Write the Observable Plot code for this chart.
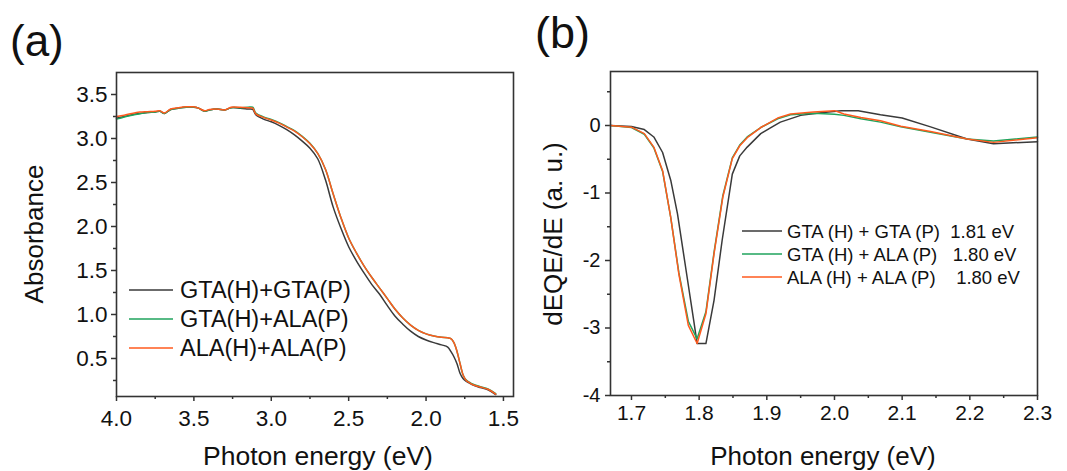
<!DOCTYPE html>
<html>
<head>
<meta charset="utf-8">
<script src="https://cdn.jsdelivr.net/npm/d3@7"></script>
<script src="https://cdn.jsdelivr.net/npm/@observablehq/plot@0.6"></script>
<style>
  html, body { margin: 0; padding: 0; background: #fff; }
  #wrap { position: relative; width: 1067px; height: 471px; overflow: hidden; background: #fff; }
  #wrap svg { position: absolute; top: 0; }
  text { white-space: pre; }
</style>
</head>
<body>
<div id="wrap"></div>
<script>
// ---------- Panel (a): absorbance ----------
const seriesNamesA = ["GTA(H)+GTA(P)", "GTA(H)+ALA(P)", "ALA(H)+ALA(P)"];
const energyA = [4.00,3.95,3.90,3.85,3.80,3.75,3.72,3.69,3.65,3.60,3.55,3.50,3.47,3.43,3.40,3.35,3.30,3.26,3.20,3.15,3.12,3.10,3.05,3.00,2.95,2.90,2.85,2.80,2.75,2.70,2.65,2.60,2.55,2.50,2.45,2.40,2.35,2.30,2.25,2.20,2.15,2.10,2.05,2.00,1.95,1.90,1.86,1.84,1.82,1.80,1.78,1.76,1.74,1.72,1.70,1.65,1.60,1.55];
const absGG = [3.23,3.25,3.27,3.285,3.295,3.30,3.31,3.285,3.33,3.345,3.355,3.355,3.345,3.31,3.325,3.335,3.325,3.35,3.345,3.335,3.33,3.27,3.22,3.19,3.15,3.10,3.04,2.97,2.89,2.77,2.53,2.22,1.98,1.77,1.61,1.47,1.34,1.23,1.10,0.98,0.89,0.81,0.75,0.71,0.68,0.655,0.63,0.58,0.52,0.44,0.33,0.27,0.24,0.22,0.20,0.17,0.145,0.09];
const absGA = [3.22,3.245,3.265,3.28,3.295,3.30,3.31,3.285,3.33,3.345,3.355,3.355,3.345,3.31,3.325,3.335,3.325,3.35,3.35,3.355,3.355,3.29,3.245,3.215,3.18,3.135,3.09,3.025,2.945,2.83,2.65,2.37,2.10,1.87,1.70,1.55,1.42,1.30,1.18,1.06,0.96,0.88,0.82,0.78,0.755,0.74,0.735,0.725,0.68,0.58,0.44,0.31,0.255,0.23,0.21,0.18,0.155,0.10];
const absAA = [3.25,3.265,3.285,3.30,3.305,3.31,3.315,3.29,3.335,3.35,3.36,3.36,3.345,3.315,3.33,3.335,3.325,3.355,3.355,3.35,3.345,3.28,3.24,3.21,3.175,3.13,3.085,3.02,2.94,2.83,2.65,2.37,2.10,1.87,1.70,1.55,1.42,1.30,1.18,1.06,0.96,0.88,0.82,0.78,0.755,0.74,0.735,0.725,0.68,0.58,0.44,0.31,0.25,0.225,0.205,0.175,0.15,0.095];
const xMajorA = [4.0,3.5,3.0,2.5,2.0,1.5];
const xMinorA = [3.75,3.25,2.75,2.25,1.75];
const yMajorA = [0.5,1.0,1.5,2.0,2.5,3.0,3.5];
const yMinorA = [0.25,0.75,1.25,1.75,2.25,2.75,3.25];

// ---------- Panel (b): dEQE/dE ----------
const seriesNamesB = ["GTA (H) + GTA (P)  1.81 eV", "GTA (H) + ALA (P)   1.80 eV", "ALA (H) + ALA (P)    1.80 eV"];
const energyB_GG = [1.669,1.700,1.719,1.733,1.746,1.758,1.768,1.780,1.792,1.797,1.810,1.822,1.834,1.849,1.860,1.871,1.891,1.906,1.920,1.950,1.980,2.010,2.035,2.068,2.100,2.142,2.196,2.235,2.300];
const deqeGG = [0.00,-0.015,-0.06,-0.17,-0.40,-0.81,-1.31,-2.10,-2.89,-3.23,-3.23,-2.59,-1.70,-0.72,-0.45,-0.32,-0.12,-0.03,0.05,0.15,0.19,0.22,0.22,0.16,0.11,-0.02,-0.20,-0.27,-0.24];
const energyB_GA = [1.669,1.700,1.719,1.733,1.746,1.758,1.770,1.784,1.797,1.810,1.822,1.835,1.849,1.860,1.871,1.891,1.916,1.935,1.969,2.000,2.014,2.039,2.068,2.098,2.142,2.196,2.235,2.300];
const deqeGA = [0.00,-0.03,-0.13,-0.33,-0.68,-1.36,-2.18,-2.90,-3.16,-2.76,-1.88,-1.04,-0.48,-0.29,-0.17,-0.03,0.10,0.16,0.18,0.165,0.15,0.10,0.05,-0.02,-0.10,-0.20,-0.23,-0.17];
const energyB_AA = [1.669,1.700,1.719,1.733,1.746,1.758,1.770,1.784,1.797,1.810,1.822,1.835,1.849,1.860,1.871,1.891,1.916,1.935,1.969,2.000,2.014,2.039,2.068,2.098,2.142,2.196,2.235,2.300];
const deqeAA = [0.00,-0.025,-0.12,-0.32,-0.67,-1.36,-2.20,-2.96,-3.23,-2.79,-1.90,-1.06,-0.49,-0.30,-0.18,-0.03,0.11,0.17,0.20,0.22,0.17,0.12,0.07,-0.01,-0.09,-0.20,-0.25,-0.18];
const xMajorB = [1.7,1.8,1.9,2.0,2.1,2.2,2.3];
const xMinorB = [1.75,1.85,1.95,2.05,2.15,2.25];
const yMajorB = [-4,-3,-2,-1,0];
const yMinorB = [-3.5,-2.5,-1.5,-0.5,0.5];

const colors = ["#3a3a3a", "#1fa35c", "#ff5a1e"];
const FONT = "'Liberation Sans', Arial, Helvetica, sans-serif";
const AX = "#333";

const rows = (xs, ys) => xs.map((x, i) => ({x, y: ys[i]}));

function addText(svg, x, y, txt, size, opts = {}) {
  const t = d3.select(svg).append("text")
    .attr("x", x).attr("y", y)
    .attr("font-family", FONT).attr("font-size", size)
    .attr("fill", "#111")
    .attr("text-anchor", opts.anchor || "start")
    .style("white-space", "pre")
    .text(txt);
  if (opts.rotate) t.attr("transform", `rotate(-90 ${x} ${y})`);
  return t;
}
function addLegend(svg, x0, x1, ys, names, size, dy, tx) {
  const g = d3.select(svg).append("g");
  names.forEach((n, i) => {
    g.append("line").attr("x1", x0).attr("x2", x1).attr("y1", ys[i]).attr("y2", ys[i])
      .attr("stroke", colors[i]).attr("stroke-width", 1.6);
    addText(svg, tx, ys[i] + dy, n, size);
  });
}

// ----- Plot (a)
const WA = 533;
const plotA = Plot.plot({
  width: WA, height: 471,
  marginLeft: 116, marginRight: WA - 513, marginTop: 72, marginBottom: 75,
  style: {fontFamily: FONT, background: "transparent", color: "#111"},
  x: {domain: [4.0, 1.435]},
  y: {domain: [0.068, 3.75]},
  marks: [
    Plot.axisX({ticks: xMajorA, tickSize: 5, tickPadding: 9, tickFormat: d3.format(".1f"), label: null, fontSize: 22.5, stroke: AX, strokeWidth: 1.5}),
    Plot.axisX({ticks: xMinorA, tickSize: 3, tickFormat: () => "", label: null, stroke: AX, strokeWidth: 1.5}),
    Plot.axisY({ticks: yMajorA, tickSize: 5, tickPadding: 4, tickFormat: d3.format(".1f"), label: null, fontSize: 22.5, stroke: AX, strokeWidth: 1.5}),
    Plot.axisY({ticks: yMinorA, tickSize: 3, tickFormat: () => "", label: null, stroke: AX, strokeWidth: 1.5}),
    Plot.line(rows(energyA, absGG), {x: "x", y: "y", stroke: colors[0], strokeWidth: 1.5, curve: "catmull-rom"}),
    Plot.line(rows(energyA, absGA), {x: "x", y: "y", stroke: colors[1], strokeWidth: 1.5, curve: "catmull-rom"}),
    Plot.line(rows(energyA, absAA), {x: "x", y: "y", stroke: colors[2], strokeWidth: 1.5, curve: "catmull-rom"}),
    Plot.frame({stroke: AX, strokeWidth: 1.6})
  ]
});
plotA.style.left = "0px";
document.getElementById("wrap").appendChild(plotA);
addText(plotA, 10, 56, "(a)", 44);
addText(plotA, 43, 234, "Absorbance", 26, {anchor: "middle", rotate: true});
addText(plotA, 318, 465, "Photon energy (eV)", 26.5, {anchor: "middle"});
addLegend(plotA, 129, 173, [290, 319, 348], seriesNamesA, 23.5, 8, 180);

// ----- Plot (b)
const XB = 533, WB = 1067 - XB;
const plotB = Plot.plot({
  width: WB, height: 471,
  marginLeft: 610 - XB, marginRight: WB - (1037 - XB), marginTop: 71, marginBottom: 471 - 395,
  style: {fontFamily: FONT, background: "transparent", color: "#111"},
  x: {domain: [1.669, 2.3]},
  y: {domain: [-4, 0.8]},
  marks: [
    Plot.axisX({ticks: xMajorB, tickSize: 5, tickPadding: 5, tickFormat: d3.format(".1f"), label: null, fontSize: 21, stroke: AX, strokeWidth: 1.5}),
    Plot.axisX({ticks: xMinorB, tickSize: 3, tickFormat: () => "", label: null, stroke: AX, strokeWidth: 1.5}),
    Plot.axisY({ticks: yMajorB, tickSize: 5, tickPadding: 5, tickFormat: d => String(d), label: null, fontSize: 20, stroke: AX, strokeWidth: 1.5}),
    Plot.axisY({ticks: yMinorB, tickSize: 3, tickFormat: () => "", label: null, stroke: AX, strokeWidth: 1.5}),
    Plot.line(rows(energyB_GG, deqeGG), {x: "x", y: "y", stroke: colors[0], strokeWidth: 1.5}),
    Plot.line(rows(energyB_GA, deqeGA), {x: "x", y: "y", stroke: colors[1], strokeWidth: 1.5}),
    Plot.line(rows(energyB_AA, deqeAA), {x: "x", y: "y", stroke: colors[2], strokeWidth: 1.5}),
    Plot.frame({stroke: AX, strokeWidth: 1.6})
  ]
});
plotB.style.left = XB + "px";
document.getElementById("wrap").appendChild(plotB);
addText(plotB, 535 - XB, 48, "(b)", 45);
addText(plotB, 562 - XB, 234, "dEQE/dE (a. u.)", 26, {anchor: "middle", rotate: true});
addText(plotB, 823 - XB, 465, "Photon energy (eV)", 26, {anchor: "middle"});
addLegend(plotB, 742 - XB, 782 - XB, [231, 254, 277], seriesNamesB, 18.5, 7, 787 - XB);
</script>
</body>
</html>
